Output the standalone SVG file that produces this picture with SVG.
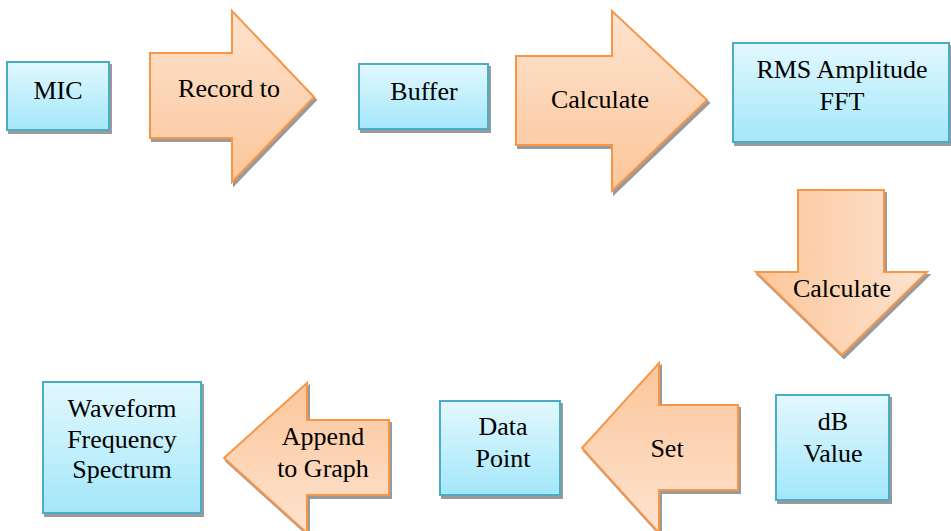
<svg xmlns="http://www.w3.org/2000/svg" width="951" height="531" viewBox="0 0 951 531" font-family="Liberation Serif" font-size="26" text-anchor="middle">
<defs>
<linearGradient id="gBox" x1="0" y1="0" x2="0" y2="1">
<stop offset="0" stop-color="#e2f8fe"/>
<stop offset="1" stop-color="#a3e7fa"/>
</linearGradient>
<linearGradient id="gTopLight" x1="0" y1="0" x2="0" y2="1">
<stop offset="0" stop-color="#fde3cf"/>
<stop offset="1" stop-color="#fcc69a"/>
</linearGradient>
<linearGradient id="gBotLight" x1="0" y1="0" x2="0" y2="1">
<stop offset="0" stop-color="#fcc69a"/>
<stop offset="1" stop-color="#fde3cf"/>
</linearGradient>
<linearGradient id="gRightLight" x1="0" y1="0" x2="1" y2="0">
<stop offset="0" stop-color="#fcc69a"/>
<stop offset="1" stop-color="#fde3cf"/>
</linearGradient>
<filter id="sh" x="-10%" y="-10%" width="130%" height="130%">
<feFlood flood-color="#9a9a9a" result="c"/>
<feComposite in="c" in2="SourceAlpha" operator="in" result="s"/>
<feOffset in="s" dx="2" dy="3" result="o"/>
<feMerge><feMergeNode in="o"/><feMergeNode in="SourceGraphic"/></feMerge>
</filter>
</defs>
<style>
.box{fill:url(#gBox);stroke:#4bacc6;stroke-width:2;filter:url(#sh)}
.arr{stroke:#f79646;stroke-width:2;stroke-linejoin:miter;filter:url(#sh)}
</style>
<rect width="951" height="531" fill="#ffffff"/>
<g id="connectors">
<g id="arrow-record">
<polygon class="arr" fill="url(#gTopLight)" points="150,53 232,53 232,11 314,97 232,182 232,138 150,138"/>
<text x="229" y="97">Record to</text>
</g>
<g id="arrow-calc1">
<polygon class="arr" fill="url(#gTopLight)" points="516,56 612,56 612,11 707,100 612,191 612,145 516,145"/>
<text x="600" y="108">Calculate</text>
</g>
<g id="arrow-calc2">
<polygon class="arr" fill="url(#gRightLight)" points="798,190 884,190 884,272 927,272 842,355 756,272 798,272"/>
<text x="842" y="297">Calculate</text>
</g>
<g id="arrow-set">
<polygon class="arr" fill="url(#gBotLight)" points="738,405 659,405 659,363 582,448 659,533 659,490 738,490"/>
<text x="667" y="457">Set</text>
</g>
<g id="arrow-append">
<polygon class="arr" fill="url(#gBotLight)" points="389,420 307,420 307,383 224,458 307,533 307,495 389,495"/>
<text x="323" y="445">Append</text>
<text x="323" y="477">to Graph</text>
</g>
</g>
<g id="mic">
<rect class="box" x="7" y="62" width="102" height="68"/>
<text x="58" y="99">MIC</text>
</g>
<g id="buffer">
<rect class="box" x="359" y="64" width="129" height="65"/>
<text x="424" y="100">Buffer</text>
</g>
<g id="rms">
<rect class="box" x="733" y="43" width="216" height="99"/>
<text x="842" y="78">RMS Amplitude</text>
<text x="842" y="110">FFT</text>
</g>
<g id="db">
<rect class="box" x="776" y="395" width="113" height="105"/>
<text x="833" y="430">dB</text>
<text x="833" y="462">Value</text>
</g>
<g id="datapoint">
<rect class="box" x="440" y="401" width="120" height="94"/>
<text x="503" y="435">Data</text>
<text x="503" y="467">Point</text>
</g>
<g id="waveform">
<rect class="box" x="43" y="382" width="158" height="131"/>
<text x="122" y="417">Waveform</text>
<text x="122" y="448">Frequency</text>
<text x="122" y="478">Spectrum</text>
</g>
</svg>
